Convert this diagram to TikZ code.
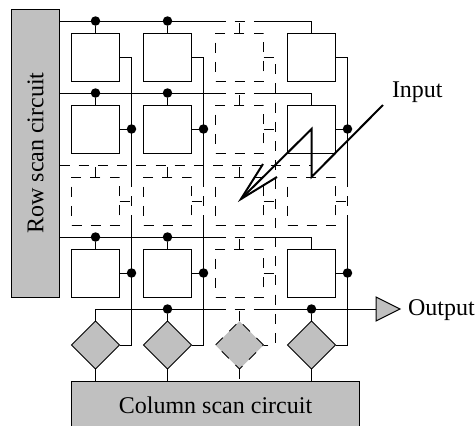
\documentclass[tikz,border=0pt]{standalone}
\usepackage{fontspec}
\setmainfont{Liberation Serif}
\usepackage{xcolor}
\usepackage{tikz}
\usetikzlibrary{shapes.geometric}
\definecolor{scanc}{HTML}{C0C0C0}
\tikzset{
  wire/.style={line width=1pt,black},
  dashw/.style={wire,dash pattern=on 10pt off 9.2pt},
  cell/.style={rectangle,wire,draw,minimum size=48pt,inner sep=0pt,outer sep=0pt},
  dcell/.style={cell,dash pattern=on 10pt off 9.2pt},
  dia/.style={diamond,wire,draw,fill=scanc,minimum width=48pt,minimum height=48pt,inner sep=0pt,outer sep=0pt,aspect=1},
  ddia/.style={dia,dash pattern=on 10pt off 9.2pt},
  dot/.style={circle,fill=black,minimum size=9.5pt,inner sep=0pt,outer sep=0pt},
  scan/.style={rectangle,wire,draw,fill=scanc,inner sep=0pt,outer sep=0pt,font=\fontsize{24}{28}\selectfont},
  txt/.style={inner sep=0pt,outer sep=0pt,font=\fontsize{24}{28}\selectfont},
  zap/.style={line width=2pt,black}
}
\begin{document}
\begin{tikzpicture}[x=1pt,y=-1pt]
\useasboundingbox (0,0) rectangle (475,426);
\node[scan,rotate=90,minimum width=288pt,minimum height=48pt] (rowscan) at (35.5,153) {Row scan circuit};
\node[scan,minimum width=288pt,minimum height=48pt] (colscan) at (215.5,405) {Column scan circuit};
% cells
\node[cell] (c11) at (95.5,57) {};
\node[cell] (c12) at (167.5,57) {};
\node[dcell] (c13) at (239.5,57) {};
\node[cell] (c14) at (311.5,57) {};
\node[cell] (c21) at (95.5,129) {};
\node[cell] (c22) at (167.5,129) {};
\node[dcell] (c23) at (239.5,129) {};
\node[cell] (c24) at (311.5,129) {};
\node[dcell] (c31) at (95.5,201) {};
\node[dcell] (c32) at (167.5,201) {};
\node[dcell] (c33) at (239.5,201) {};
\node[dcell] (c34) at (311.5,201) {};
\node[cell] (c41) at (95.5,273) {};
\node[cell] (c42) at (167.5,273) {};
\node[dcell] (c43) at (239.5,273) {};
\node[cell] (c44) at (311.5,273) {};
\node[dia] (d1) at (95.5,345) {};
\node[dia] (d2) at (167.5,345) {};
\node[ddia] (d3) at (239.5,345) {};
\node[dia] (d4) at (311.5,345) {};
% junctions
\node[dot] (j11) at (95.5,21) {};
\node[dot] (j12) at (167.5,21) {};
\node[dot] (j21) at (95.5,93) {};
\node[dot] (j22) at (167.5,93) {};
\node[dot] (j41) at (95.5,237) {};
\node[dot] (j42) at (167.5,237) {};
\node[dot] (j52) at (167.5,309) {};
\node[dot] (j54) at (311.5,309) {};
\node[dot] (q21) at (131.5,129) {};
\node[dot] (q22) at (203.5,129) {};
\node[dot] (q24) at (347.5,129) {};
\node[dot] (q41) at (131.5,273) {};
\node[dot] (q42) at (203.5,273) {};
\node[dot] (q44) at (347.5,273) {};
\coordinate (r3) at (311.5,165);
\coordinate (k1) at (131.5,177);
\coordinate (k1b) at (131.5,225);
\coordinate (k2) at (203.5,177);
\coordinate (k2b) at (203.5,225);
\coordinate (k3) at (275.5,345);
\coordinate (k4) at (347.5,177);
\coordinate (k4b) at (347.5,225);
% rows
\draw[wire] (rowscan.south |- j11) -- (c13.west |- j11);
\draw[dashw] (c13.west |- j11) -- (c13.east |- j11);
\draw[wire] (c13.east |- j11) -| (c14.north);
\draw[wire] (rowscan.south |- j21) -- (c23.west |- j21);
\draw[dashw] (c23.west |- j21) -- (c23.east |- j21);
\draw[wire] (c23.east |- j21) -| (c24.north);
\draw[dashw] (rowscan.south |- r3) -- (r3);
\draw[wire] (rowscan.south |- j41) -- (c43.west |- j41);
\draw[dashw] (c43.west |- j41) -- (c43.east |- j41);
\draw[wire] (c43.east |- j41) -| (c44.north);
\draw[wire] (j11) -- (c11.north);
\draw[wire] (j12) -- (c12.north);
\draw[wire] (j21) -- (c21.north);
\draw[wire] (j22) -- (c22.north);
\draw[wire] (j41) -- (c41.north);
\draw[wire] (j42) -- (c42.north);
\draw[dashw] (c13.north) -- (c13.north |- j11);
\draw[dashw] (c23.north) -- (c23.north |- j21);
\draw[dashw] (c31.north) -- (c31.north |- r3);
\draw[dashw] (c32.north) -- (c32.north |- r3);
\draw[dashw] (c33.north) -- (c33.north |- r3);
\draw[dashw] (c34.north) -- (c34.north |- r3);
\draw[dashw] (c43.north) -- (c43.north |- j41);
% columns
\draw[wire] (c11.east) -| (k1);
\draw[dashw] (k1) -- (k1b);
\draw[wire] (k1b) |- (d1.east);
\draw[wire] (c12.east) -| (k2);
\draw[dashw] (k2) -- (k2b);
\draw[wire] (k2b) |- (d2.east);
\draw[dashw] (c13.east) -| (k3) -- (d3.east);
\draw[wire] (c14.east) -| (k4);
\draw[dashw] (k4) -- (k4b);
\draw[wire] (k4b) |- (d4.east);
\draw[wire] (c21.east) -- (q21);
\draw[wire] (c22.east) -- (q22);
\draw[dashw] (c23.east) -- ++(12,0);
\draw[wire] (c24.east) -- (q24);
\draw[dashw] (c31.east) -- ++(12,0);
\draw[dashw] (c32.east) -- ++(12,0);
\draw[dashw] (c33.east) -- ++(12,0);
\draw[dashw] (c34.east) -- ++(12,0);
\draw[wire] (c41.east) -- (q41);
\draw[wire] (c42.east) -- (q42);
\draw[dashw] (c43.east) -- ++(12,0);
\draw[wire] (c44.east) -- (q44);
% output bus
\node[isosceles triangle,isosceles triangle stretches,wire,draw,fill=scanc,minimum width=24pt,minimum height=24pt,inner sep=0pt,outer sep=0pt] (outp) at (383.5,309) {};
\draw[wire] (d1.north) |- (j52);
\draw[wire] (j52) -- (j52 -| c13.west);
\draw[dashw] (j52 -| c13.west) -- (j52 -| c13.east);
\draw[wire] (j52 -| c13.east) -- (outp.west);
\draw[wire] (j52) -- (d2.north);
\draw[dashw] (d3.north) -- (d3.north |- j52);
\draw[wire] (j54) -- (d4.north);
\draw[wire] (d1.south) -- (d1.south |- colscan.north);
\draw[wire] (d2.south) -- (d2.south |- colscan.north);
\draw[dashw] (d3.south) -- (d3.south |- colscan.north);
\draw[wire] (d4.south) -- (d4.south |- colscan.north);
\node[txt,anchor=base west] (outl) at (408,315) {Output};
% input
\node[txt,anchor=base west] (inl) at (392,97) {Input};
\coordinate (z0) at (383,105);
\coordinate (z1) at (311.5,177);
\coordinate (z2) at (311.5,129);
\coordinate (z3) at (241,199);
\coordinate (z4) at (263,164);
\coordinate (z5) at (277,177);
\draw[zap] (z0) -- (z1) -- (z2) -- (z3);
\draw[zap] (z4) -- (z3) -- (z5);
\end{tikzpicture}
\end{document}
